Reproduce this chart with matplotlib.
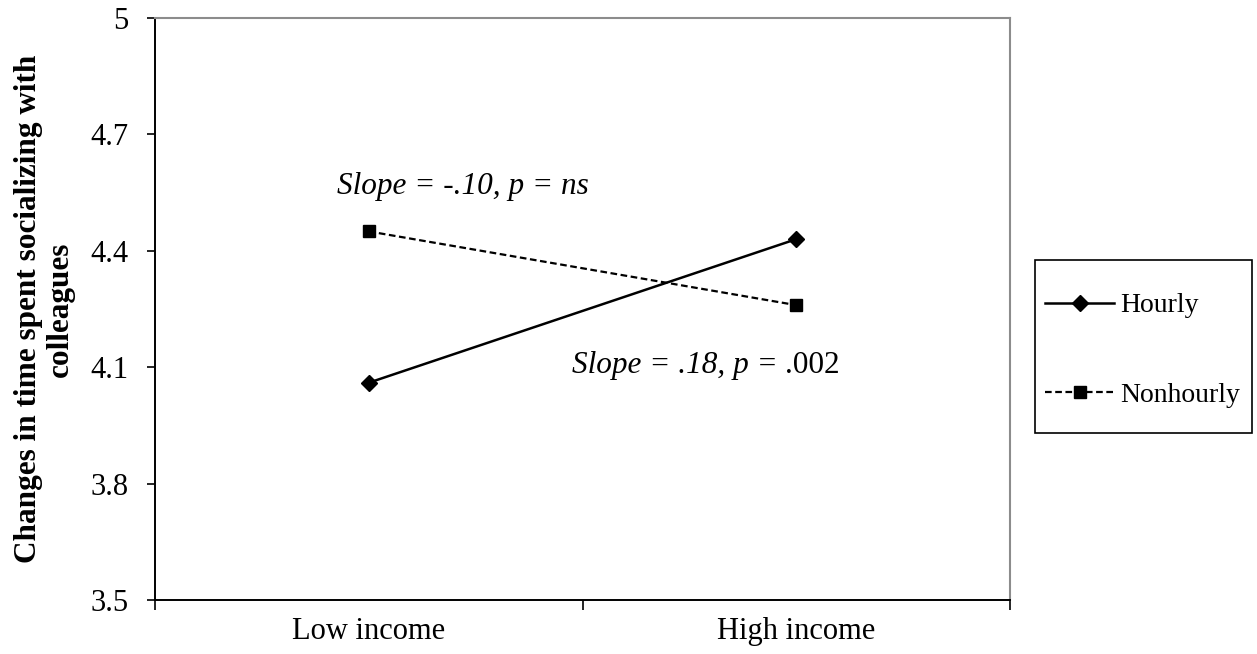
import numpy as np
import matplotlib
matplotlib.use("Agg")
import matplotlib.pyplot as plt
from matplotlib.patches import Rectangle

plt.rcParams['font.family'] = ['Liberation Serif', 'DejaVu Serif']

categories = ["Low income", "High income"]
hourly = [4.06, 4.43]
nonhourly = [4.45, 4.26]
y_ticks = [3.5, 3.8, 4.1, 4.4, 4.7, 5.0]
y_tick_labels = ["3.5", "3.8", "4.1", "4.4", "4.7", "5"]

fig = plt.figure(figsize=(12.57, 6.54), dpi=100)
ax = fig.add_axes([155 / 1257, 54 / 654, 855 / 1257, 582 / 654])

x = np.arange(len(categories)) + 0.5
ax.plot(x, hourly, color='black', linewidth=1.8, marker='D', markersize=8,
        label='Hourly')
ax.plot(x, nonhourly, color='black', linewidth=1.6, linestyle=(0, (3, 1.6)),
        marker='s', markersize=9, label='Nonhourly')

ax.set_xlim(0, 2)
ax.set_ylim(3.5, 5.0)
ax.set_yticks(y_ticks)
ax.set_yticklabels(y_tick_labels, fontsize=22)
ax.set_xticks([0, 1, 2])
ax.set_xticklabels([])
ax.set_xticks(x, minor=True)
ax.set_xticklabels(categories, minor=True, fontsize=22)
ax.tick_params(axis='x', which='minor', length=0, pad=12)
ax.tick_params(axis='x', which='major', direction='out', length=7, width=1.2)
ax.tick_params(axis='y', direction='out', length=6, width=1.2, pad=13)

ax.spines['left'].set_linewidth(1.4)
ax.spines['bottom'].set_linewidth(1.4)
for side in ('top', 'right'):
    ax.spines[side].set_color('#8c8c8c')
    ax.spines[side].set_linewidth(1.5)

ax.set_ylabel("Changes in time spent socializing with\ncolleagues",
              fontsize=22.5, fontweight='bold', linespacing=1.15, va='center')
ax.yaxis.set_label_coords(-0.129, 0.5)

# slope annotations
ax.text(0.425, 4.565, "Slope = -.10, p = ns", fontsize=22.5, style='italic',
        va='center', ha='left')
t = ax.text(0.975, 4.105, "Slope = .18, p = ", fontsize=22.5, style='italic',
            va='center', ha='left')
ax.annotate(".002", xy=(1, 0), xycoords=t, fontsize=22.5, va='bottom', ha='left')

# legend entries without frame, box drawn separately (Excel-like padding)
leg = fig.legend(loc='upper left', bbox_to_anchor=(1045 / 1257, 361 / 654),
                 fontsize=20, frameon=False,
                 handlelength=2.5, handletextpad=0.2,
                 labelspacing=2.3, borderpad=0, borderaxespad=0)
fig.patches.append(Rectangle((1035 / 1257, 221 / 654), 217 / 1257, 173 / 654,
                             transform=fig.transFigure, fill=False,
                             edgecolor='black', linewidth=1.2))

fig.savefig("out.png", dpi=100)
